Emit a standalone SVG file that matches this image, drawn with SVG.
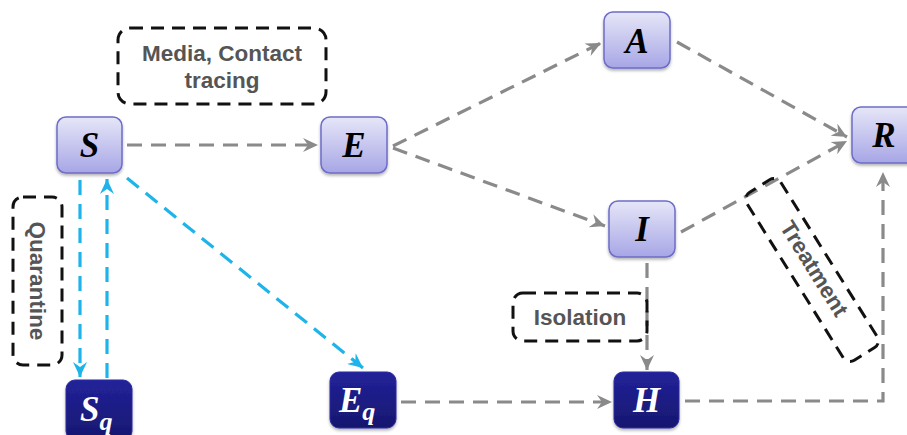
<svg xmlns="http://www.w3.org/2000/svg" width="907" height="435" viewBox="0 0 907 435">
<defs>
<linearGradient id="gl" x1="0" y1="0" x2="0" y2="1">
<stop offset="0" stop-color="#e6e6f8"/>
<stop offset="1" stop-color="#a7a6e6"/>
</linearGradient>
<linearGradient id="gd" x1="0" y1="0" x2="0" y2="1">
<stop offset="0" stop-color="#22229a"/>
<stop offset="1" stop-color="#17176f"/>
</linearGradient>
<filter id="sh" x="-20%" y="-20%" width="140%" height="150%">
<feDropShadow dx="0" dy="2" stdDeviation="1.5" flood-color="#000" flood-opacity="0.3"/>
</filter>
<marker id="ag" markerUnits="userSpaceOnUse" markerWidth="16" markerHeight="14" refX="15" refY="7" orient="auto">
<path d="M0,0 L15,7 L0,14 L5,7 z" fill="#8a8a8a"/>
</marker>
<marker id="ab" markerUnits="userSpaceOnUse" markerWidth="16" markerHeight="14" refX="15" refY="7" orient="auto">
<path d="M0,0 L15,7 L0,14 L5,7 z" fill="#1eb4ea"/>
</marker>
</defs>
<style>
.lt{fill:url(#gl);stroke:#6d6cc8;stroke-width:1.5;filter:url(#sh)}
.dk{fill:url(#gd);stroke:#2a2aa0;stroke-width:1;filter:url(#sh)}
.nl{font-family:"Liberation Serif",serif;font-weight:bold;font-style:italic;font-size:35px;text-anchor:middle;fill:#000}
.nd{font-family:"Liberation Serif",serif;font-weight:bold;font-style:italic;font-size:35px;fill:#fff}
.g{fill:none;stroke:#8a8a8a;stroke-width:3.2;stroke-dasharray:15 9;marker-end:url(#ag)}
.b{fill:none;stroke:#1eb4ea;stroke-width:3.2;stroke-dasharray:15 9;marker-end:url(#ab)}
.box{fill:none;stroke:#111;stroke-width:3;stroke-dasharray:13 8}
.lbl{font-family:"Liberation Sans",Arial,sans-serif;font-weight:bold;font-size:22.5px;fill:#555;text-anchor:middle}
</style>
<g id="connectors">
<path class="g" d="M127,145 L318,145"/>
<path class="g" d="M393,146 L601,43"/>
<path class="g" d="M393,148 L605,226"/>
<path class="g" d="M677,42 L847,137"/>
<path class="g" d="M681,232 L847,141"/>
<path class="g" d="M647,263 L647,370"/>
<path class="g" d="M401,402 L612,402"/>
<path class="g" d="M685,401 L883,401 L883,172"/>
<path class="b" d="M80,180 L80,377"/>
<path class="b" d="M107,378 L107,179"/>
<path class="b" d="M127,178 L363,368"/>
</g>
<g id="label-media">
<rect class="box" x="118" y="28" width="208" height="76" rx="12"/>
<text class="lbl" x="222" y="61">Media, Contact</text>
<text class="lbl" x="222" y="88">tracing</text>
</g>
<g id="label-quarantine">
<rect class="box" x="13" y="197" width="49" height="168" rx="10"/>
<text class="lbl" transform="translate(30,281) rotate(90)">Quarantine</text>
</g>
<g id="label-isolation">
<rect class="box" x="513" y="293" width="134" height="48" rx="10"/>
<text class="lbl" x="580" y="325">Isolation</text>
</g>
<g id="label-treatment">
<g transform="translate(812,270) rotate(58)">
<rect class="box" x="-99" y="-20" width="198" height="40" rx="8"/>
<text class="lbl" x="0" y="5">Treatment</text>
</g>
</g>
<g id="node-S">
<rect class="lt" x="57" y="117" width="65" height="56" rx="9"/>
<text class="nl" x="89.5" y="157">S</text>
</g>
<g id="node-E">
<rect class="lt" x="321" y="117" width="66" height="56" rx="9"/>
<text class="nl" x="354" y="157">E</text>
</g>
<g id="node-A">
<rect class="lt" x="604" y="12" width="66" height="56" rx="9"/>
<text class="nl" x="637" y="53">A</text>
</g>
<g id="node-R">
<rect class="lt" x="852" y="107" width="66" height="56" rx="9"/>
<text class="nl" x="884" y="147">R</text>
</g>
<g id="node-I">
<rect class="lt" x="609" y="201" width="66" height="56" rx="9"/>
<text class="nl" x="642" y="241">I</text>
</g>
<g id="node-H">
<rect class="dk" x="614" y="372" width="65" height="56" rx="9"/>
<text class="nd" x="646.5" y="412" text-anchor="middle">H</text>
</g>
<g id="node-Sq">
<rect class="dk" x="66" y="380" width="66" height="60" rx="9"/>
<text class="nd" x="80" y="421">S<tspan font-size="26" dy="9">q</tspan></text>
</g>
<g id="node-Eq">
<rect class="dk" x="330" y="372" width="66" height="56" rx="9"/>
<text class="nd" x="339" y="412">E<tspan font-size="26" dy="8">q</tspan></text>
</g>
</svg>
